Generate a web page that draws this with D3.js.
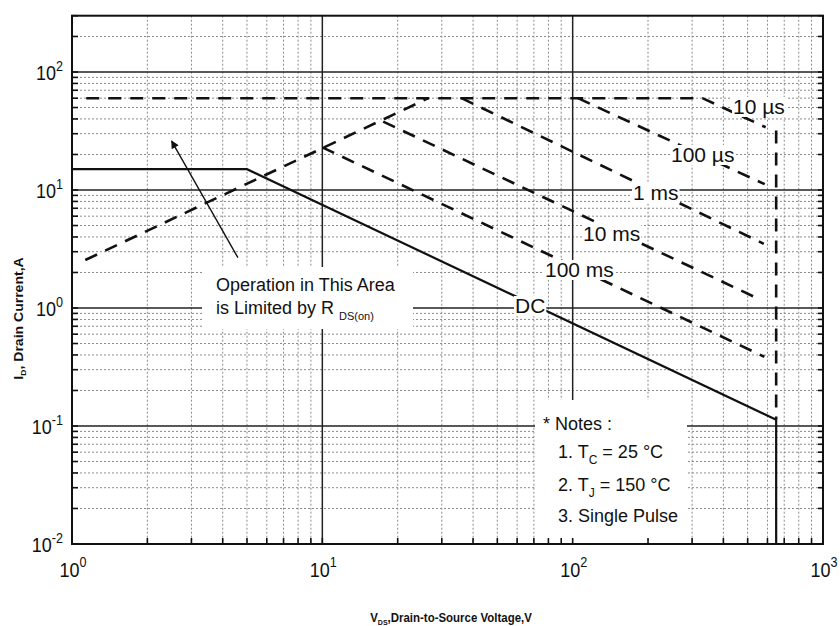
<!DOCTYPE html>
<html><head><meta charset="utf-8">
<script src="https://cdn.jsdelivr.net/npm/d3@7"></script>
<style>
body{margin:0;background:#fff}
svg{display:block}
text{font-family:"Liberation Sans",Arial,Helvetica,sans-serif;fill:#111}
</style>
</head><body>
<svg id="c" width="840" height="626"></svg>
<script>
// ---------- data (V in volts, I in amps) ----------
const xMajor = [1, 10, 100, 1000];
const xExp = ["0", "1", "2", "3"];
const yMajor = [0.01, 0.1, 1, 10, 100];
const yExp = ["-2", "-1", "0", "1", "2"];

const rdsLimit   = [[1.13, 2.55], [26.5, 60]];
const pulse10us  = [[1.14, 60], [330, 60], [590, 34]];
const pulse100us = [[105, 60], [585, 11.2]];
const pulse1ms   = [[36, 60], [580, 3.5]];
const pulse10ms  = [[17.5, 38], [565, 1.17]];
const pulse100ms = [[10, 23], [583, 0.386]];
const dcLimit    = [[1, 15], [5, 15], [650, 0.113]];
const bvDashed   = [[650, 32], [650, 0.113]];
const bvSolid    = [[650, 0.113], [650, 0.01]];
const arrowFrom  = [4.6, 2.67];
const arrowTo    = [2.5, 26];

const curveLabels = ["10 \u00b5s", "100 \u00b5s", "1 ms", "10 ms", "100 ms", "DC"];
const notesLines = ["* Notes :", "1. T|C| = 25 \u00b0C", "2. T|J| = 150 \u00b0C", "3. Single Pulse"];

// ---------- layout ----------
const W = 840, H = 626;
const L = 72, R = 823, T = 15.7, B = 544;
const x = d3.scaleLog().domain([1, 1000]).range([L, R]);
const y = d3.scaleLog().domain([0.01, 300]).range([B, T]);
const svg = d3.select("#c");
svg.append("rect").attr("width", W).attr("height", H).attr("fill", "#fff");

const isMajor = (v, arr) => arr.some(m => Math.abs(v / m - 1) < 1e-6);
const xMinor = x.ticks().filter(v => !isMajor(v, xMajor));
const yMinor = y.ticks().filter(v => !isMajor(v, yMajor));

// minor grid
const grid = svg.append("g");
grid.selectAll(".mx").data(xMinor).join("line")
  .attr("x1", d => x(d)).attr("x2", d => x(d)).attr("y1", T).attr("y2", B)
  .attr("stroke", "#8a8a8a").attr("stroke-width", 1).attr("stroke-dasharray", "2,2");
grid.selectAll(".my").data(yMinor).join("line")
  .attr("y1", d => y(d)).attr("y2", d => y(d)).attr("x1", L).attr("x2", R)
  .attr("stroke", "#8a8a8a").attr("stroke-width", 1).attr("stroke-dasharray", "2,2");
// major grid
grid.selectAll(".Mx").data(xMajor).join("line")
  .attr("x1", d => x(d)).attr("x2", d => x(d)).attr("y1", T).attr("y2", B)
  .attr("stroke", "#222").attr("stroke-width", 1.5);
grid.selectAll(".My").data(yMajor).join("line")
  .attr("y1", d => y(d)).attr("y2", d => y(d)).attr("x1", L).attr("x2", R)
  .attr("stroke", "#222").attr("stroke-width", 1.5);

// white annotation boxes
svg.append("rect").attr("x", 202).attr("y", 267).attr("width", 211).attr("height", 62).attr("fill", "#fff");
svg.append("rect").attr("x", 535).attr("y", 400).attr("width", 152).attr("height", B - 400).attr("fill", "#fff");

// curves
const line = d3.line().x(d => x(d[0])).y(d => y(d[1]));
const curves = svg.append("g").attr("fill", "none").attr("stroke", "#111");
[rdsLimit, pulse10us, pulse100us, pulse1ms, pulse10ms, pulse100ms, bvDashed].forEach(s => {
  curves.append("path").attr("d", line(s)).attr("stroke-width", 2.6).attr("stroke-dasharray", "13,9");
});
[dcLimit, bvSolid].forEach(s => {
  curves.append("path").attr("d", line(s)).attr("stroke-width", 2.2);
});

// arrow
const defs = svg.append("defs");
defs.append("marker").attr("id", "ah").attr("viewBox", "0 0 10 10").attr("refX", 9).attr("refY", 5)
  .attr("markerWidth", 10).attr("markerHeight", 8).attr("markerUnits", "userSpaceOnUse").attr("orient", "auto")
  .append("path").attr("d", "M0,0 L10,5 L0,10 z").attr("fill", "#111");
svg.append("line")
  .attr("x1", x(arrowFrom[0])).attr("y1", y(arrowFrom[1]))
  .attr("x2", x(arrowTo[0])).attr("y2", y(arrowTo[1]))
  .attr("stroke", "#111").attr("stroke-width", 1.4).attr("marker-end", "url(#ah)");

// rich text helper
function rich(parent, px, py, parts, o = {}) {
  const size = o.size || 18, sx = o.sx || 1;
  const g = parent.append("g").attr("transform", `translate(${px},${py}) scale(${sx},1)`);
  const t = g.append("text").attr("font-size", size).attr("text-anchor", o.anchor || "start")
    .attr("font-weight", o.weight || "normal");
  let cur = 0;
  parts.forEach(p => {
    const off = p.sup ? -p.sup : (p.sub ? p.sub : 0);
    const ts = t.append("tspan").text(p.t).attr("dy", off - cur);
    if (p.size) ts.attr("font-size", p.size);
    cur = off;
  });
  if (o.bg) {
    const b = t.node().getBBox();
    g.insert("rect", "text").attr("x", b.x - 1).attr("y", b.y + 2).attr("width", b.width + 2)
      .attr("height", b.height - 3).attr("fill", "#fff");
  }
  if (o.fit) {
    const w = t.node().getBBox().width;
    g.attr("transform", `translate(${px},${py}) scale(${o.fit / w},1)`);
  }
  return g;
}

// curve labels
const labelPos = [[733, 114], [671, 162], [633, 200], [583, 241], [545, 277], [515, 313]];
curveLabels.forEach((s, i) => rich(svg, labelPos[i][0], labelPos[i][1], [{t: s}], {size: 21, bg: true}));

// annotation text
rich(svg, 216, 291, [{t: "Operation in This Area"}], {size: 18});
rich(svg, 216, 314, [{t: "is Limited by R "}, {t: "DS(on)", sub: 6, size: 11}], {size: 18});

// notes
const notesPos = [[543, 430], [558, 458], [558, 491], [558, 522]];
notesLines.forEach((s, i) => {
  const bits = s.split("|");
  const parts = bits.map((b, k) => k % 2 === 1 ? {t: b, sub: 6, size: 12} : {t: b});
  rich(svg, notesPos[i][0], notesPos[i][1], parts, {size: 18});
});

// frame
svg.append("rect").attr("x", L).attr("y", T).attr("width", R - L).attr("height", B - T)
  .attr("fill", "none").attr("stroke", "#111").attr("stroke-width", 2);

// inward ticks
const tk = svg.append("g").attr("stroke", "#111").attr("stroke-width", 1.6);
tk.selectAll(".tb").data(x.ticks()).join("line")
  .attr("x1", d => x(d)).attr("x2", d => x(d)).attr("y1", B).attr("y2", B - 6);
tk.selectAll(".tl").data(y.ticks()).join("line")
  .attr("y1", d => y(d)).attr("y2", d => y(d)).attr("x1", L).attr("x2", L + 6);
tk.selectAll(".tr").data(y.ticks()).join("line")
  .attr("y1", d => y(d)).attr("y2", d => y(d)).attr("x1", R).attr("x2", R - 5);

// tick labels
xMajor.forEach((v, i) => rich(svg, x(v) + 1, 577, [{t: "10"}, {t: xExp[i], sup: 10, size: 14}], {size: 20, anchor: "middle", sx: 0.9}));
yMajor.forEach((v, i) => rich(svg, 63, y(v) + 7.5, [{t: "10"}, {t: yExp[i], sup: 9, size: 14}], {size: 20, anchor: "end", sx: 0.9}));

// axis titles
rich(svg, 451, 622, [{t: "V"}, {t: "DS", sub: 3, size: 8}, {t: ",Drain-to-Source Voltage,V"}], {size: 13, weight: "bold", anchor: "middle", fit: 162});
const yt = svg.append("g").attr("transform", "translate(23,318.5) rotate(-90)");
rich(yt, 0, 0, [{t: "I"}, {t: "D", sub: 3, size: 8}, {t: ", Drain Current,A"}], {size: 13, weight: "bold", anchor: "middle", fit: 123});
</script>
</body></html>
